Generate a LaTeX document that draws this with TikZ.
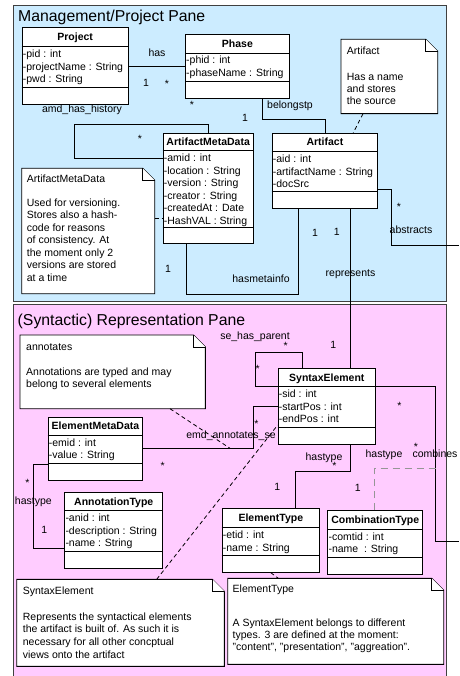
\documentclass[tikz,border=0pt]{standalone}
\usepackage{fontspec}
\setmainfont{Liberation Sans}
\usetikzlibrary{calc}

\definecolor{mgmtblue}{RGB}{204,236,255}
\definecolor{reprpink}{RGB}{255,204,255}
\definecolor{paneedge}{RGB}{64,64,64}
\definecolor{assocgrey}{RGB}{150,150,150}

\tikzset{
  pane/.style={draw=paneedge, line width=1pt, inner sep=0, anchor=north west},
  classbox/.style={draw=black, fill=white, line width=0.9pt, inner sep=0},
  boxline/.style={draw=black, line width=0.9pt},
  classtitle/.style={font=\fontsize{10.5}{12.7}\selectfont\bfseries, inner sep=0},
  attr/.style={font=\fontsize{10.5}{12.7}\selectfont, inner sep=0},
  lbl/.style={font=\fontsize{10.5}{12.7}\selectfont, inner sep=0, anchor=base},
  panetitle/.style={font=\fontsize{15.8}{18}\selectfont, inner sep=0, anchor=base west},
  assoc/.style={draw=black, line width=0.8pt},
  notelink/.style={draw=black, line width=0.8pt, dash pattern=on 4pt off 3pt},
  assocclass/.style={draw=assocgrey, line width=1.2pt, dash pattern=on 7pt off 5pt},
  noteframe/.style={inner sep=0, anchor=north west},
  notepaper/.style={draw=black, fill=white, line width=0.9pt},
}

% UML class: name, left, top, width, title divider, attribute divider, height, title, attributes
\newcommand\umlclass[9]{%
  \node[classbox, minimum width=#4pt, minimum height=#7pt, anchor=north west] (#1) at (#2,#3) {};
  \draw[boxline] ($(#1.north west)+(0,#5)$) -- ($(#1.north east)+(0,#5)$);
  \draw[boxline] ($(#1.north west)+(0,#6)$) -- ($(#1.north east)+(0,#6)$);
  \node[classtitle, anchor=base] (#1-title) at ($(#1.north)+(0,{#5/2+3.8})$) {#8};
  \foreach \attline [count=\k] in {#9}
    \node[attr, anchor=base west] (#1-a\k) at ($(#1.north west)+(1,{#5+10.8+(\k-1)*12.6})$) {\attline};
}

% Note with folded corner: name, left, top, width, height
\newcommand\umlnote[5]{%
  \node[noteframe, minimum width=#4pt, minimum height=#5pt] (#1) at (#2,#3) {};
  \path[notepaper] (#1.north west) -- ($(#1.north east)+(-12,0)$) -- ($(#1.north east)+(0,12)$)
     -- (#1.south east) -- (#1.south west) -- cycle;
  \draw[notepaper] ($(#1.north east)+(-12,0)$) |- ($(#1.north east)+(0,12)$);
}

% Note text: name, x, heading baseline, heading, body baseline, line spacing, body lines
\newcommand\notetext[7]{%
  \node[attr, anchor=base west] (#1-head) at (#2,#3) {#4};
  \foreach \notel [count=\k] in {#7}
    \node[attr, anchor=base west] (#1-b\k) at (#2,{#5+(\k-1)*#6}) {\notel};
}

\begin{document}
\begin{tikzpicture}[x=1pt,y=-1pt]
\useasboundingbox (0,0) rectangle (459,676);

% panes
\node[pane, fill=mgmtblue, minimum width=432.7pt, minimum height=296pt] (mgmt) at (13,5) {};
\node[pane, fill=reprpink, minimum width=432.7pt, minimum height=380pt] (repr) at (13,304) {};
\node[panetitle] (mgmt-title) at (18,21.5) {Management/Project Pane};
\node[panetitle] (repr-title) at (17.5,325) {(Syntactic) Representation Pane};

% classes
\umlclass{project}{21.7}{27.3}{106}{19.4}{60}{76.7}{Project}{-pid : int,-projectName : String,-pwd : String}
\umlclass{phase}{185}{34.3}{104}{18.7}{46.7}{64}{Phase}{-phid : int,-phaseName : String}
\umlclass{amd}{162.7}{132.7}{90}{18}{94.6}{110.6}{ArtifactMetaData}{-amid : int,-location : String,-version : String,-creator : String,-createdAt : Date,-HashVAL : String}
\umlclass{artifact}{271.7}{132.7}{105.6}{19}{59}{75.6}{Artifact}{-aid : int,-artifactName : String,-docSrc}
\umlclass{syntax}{277.7}{368.3}{97.3}{18.4}{59.4}{76}{SyntaxElement}{-sid : int,-startPos : int,-endPos : int}
\umlclass{emd}{47.7}{416.7}{94.6}{18.6}{46.6}{63.3}{ElementMetaData}{-emid : int,-value : String}
\umlclass{annot}{64.3}{491.7}{98}{19}{60}{76.6}{AnnotationType}{-anid : int,-description : String,-name : String}
\umlclass{etype}{221.7}{508.3}{97.3}{19.4}{47.4}{63.4}{ElementType}{-etid : int,-name : String}
\umlclass{ctype}{327.3}{510}{95}{19.3}{47.3}{64}{CombinationType}{-comtid : int,-name\ \ : String}

% notes
\umlnote{artnote}{341}{39.3}{96.3}{74}
\notetext{artnote}{346.7}{55}{Artifact}{80.8}{12}{Has a name,and stores,the source}
\umlnote{amdnote}{21.7}{168.3}{132.6}{125}
\notetext{amdnote}{26.7}{182.8}{ArtifactMetaData}{206.2}{12.55}{Used for versioning.,Stores also a hash-,code for reasons,of consistency. At,the moment only 2,versions are stored,at a time}
\umlnote{annnote}{20}{335}{185}{73.3}
\notetext{annnote}{26}{350.2}{annotates}{375.2}{11.8}{Annotations are typed and may,belong to several elements}
\umlnote{senote}{16.7}{579.3}{207.3}{86.7}
\notetext{senote}{22.7}{594.2}{SyntaxElement}{620.2}{12.7}{Represents the syntactical elements,the artifact is built of. As such it is,necessary for all other concptual,views onto the artifact}
\umlnote{etnote}{227.7}{578.3}{215.6}{85.7}
\notetext{etnote}{232.5}{592.8}{ElementType}{626.2}{12.3}{A SyntaxElement belongs to different,types. 3 are defined at the moment:,{"content", "presentation", "aggreation".}}

% associations
\draw[assoc] (project.east |- phase.west) -- (phase.west);
\draw[assoc] ($(phase.south west)+(77.7,0)$) -- ++(0,20) -| (artifact.north);
\draw[assoc] ($(amd.north west)+(45.5,0)$) |- (74,124) |- ($(amd.north west)+(0,25.3)$);
\draw[assoc] ($(amd.south west)+(23.3,0)$) |- ($(artifact.south west)+(26.6,85)$) -- ($(artifact.south west)+(26.6,0)$);
\draw[assoc] ($(artifact.south west)+(78.8,0)$) coordinate (repTop) -- (repTop |- syntax.north);
\coordinate (absEnd) at (459,245);
\draw[assoc] ($(artifact.north east)+(0,56.6)$) -| (391.7,245) -- (absEnd);
\draw[assoc] ($(syntax.north west)+(24.6,0)$) |- (255.7,352.7) |- ($(syntax.north west)+(0,18.4)$);
\coordinate (combEnd) at (459,541);
\draw[assoc] ($(syntax.north east)+(0,18.4)$) -| (435.5,541) -- (combEnd);
\coordinate (combLink) at (435.5,468.3);
\draw[assocclass] ($(ctype.north west)+(47,0)$) |- (combLink);
\draw[assoc] ($(syntax.south west)+(72.3,0)$) |- ($(etype.north west)+(73.3,-36.6)$) -- ($(etype.north west)+(73.3,0)$);
\draw[assoc] ($(emd.north east)+(0,31.6)$) -- (253,448.3) |- ($(syntax.north west)+(0,38.4)$);
\draw[assoc] ($(emd.north west)+(0,47.3)$) -| ($(annot.north west)+(-31,56.6)$) -- ($(annot.north west)+(0,56.6)$);

% note links
\draw[notelink] ($(amdnote.north east)+(0,49.7)$) -- ($(amd.north west)+(0,85.3)$);
\draw[notelink] ($(artnote.south west)+(22,0)$) -- ($(artifact.north west)+(81.6,0)$);
\coordinate (annLink) at (230,448.3);
\draw[notelink] ($(annnote.south west)+(150,0)$) -- (annLink);
\draw[notelink] ($(senote.north west)+(140,0)$) -- ($(syntax.north west)+(0,56.7)$);
\draw[notelink] ($(etype.south west)+(49,0)$) -- ($(etnote.north west)+(50.6,0)$);

% association labels and multiplicities
\node[lbl] (l-has) at (157,56.5) {has};
\node[lbl] (m-has1) at (146,86.8) {1};
\node[lbl] (m-has2) at (167,88) {*};
\node[lbl] (l-hist) at (82,112.5) {amd\_has\_history};
\node[lbl] (m-phase) at (192,109) {*};
\node[lbl] (l-belongs) at (290,108.5) {belongstp};
\node[lbl] (m-belongs) at (245,121.8) {1};
\node[lbl] (m-hist) at (140,143) {*};
\node[lbl] (m-meta1) at (168,272) {1};
\node[lbl] (l-meta) at (261,282.8) {hasmetainfo};
\node[lbl] (m-meta2) at (315,236.8) {1};
\node[lbl] (m-rep1) at (336.7,235.8) {1};
\node[lbl] (l-rep) at (350.5,276) {represents};
\node[lbl] (m-abs) at (399,211) {*};
\node[lbl] (l-abs) at (411,233.5) {abstracts};
\node[lbl] (l-parent) at (255,339.5) {se\_has\_parent};
\node[lbl] (m-parent1) at (285.7,349.3) {*};
\node[lbl] (m-rep2) at (333.3,348) {1};
\node[lbl] (m-parent2) at (257.7,372.7) {*};
\node[lbl] (m-ann1) at (256.5,427.7) {*};
\node[lbl] (l-ann) at (231,438) {emd\_annotates\_se};
\node[lbl] (m-ann2) at (162.7,469.3) {*};
\node[lbl] (m-atype1) at (27.3,486) {*};
\node[lbl] (l-atype) at (33.3,504) {hastype};
\node[lbl] (m-atype2) at (44.3,533.8) {1};
\node[lbl] (l-etype) at (324,460) {hastype};
\node[lbl] (m-etype1) at (334.3,469.3) {*};
\node[lbl] (m-etype2) at (277.3,490.5) {1};
\node[lbl] (l-ctype) at (384,457.5) {hastype};
\node[lbl] (l-comb) at (435,457.5) {combines};
\node[lbl] (m-comb1) at (399.3,409.3) {*};
\node[lbl] (m-comb2) at (416,450.5) {*};
\node[lbl] (m-ctype) at (357.7,491) {1};
\end{tikzpicture}
\end{document}
